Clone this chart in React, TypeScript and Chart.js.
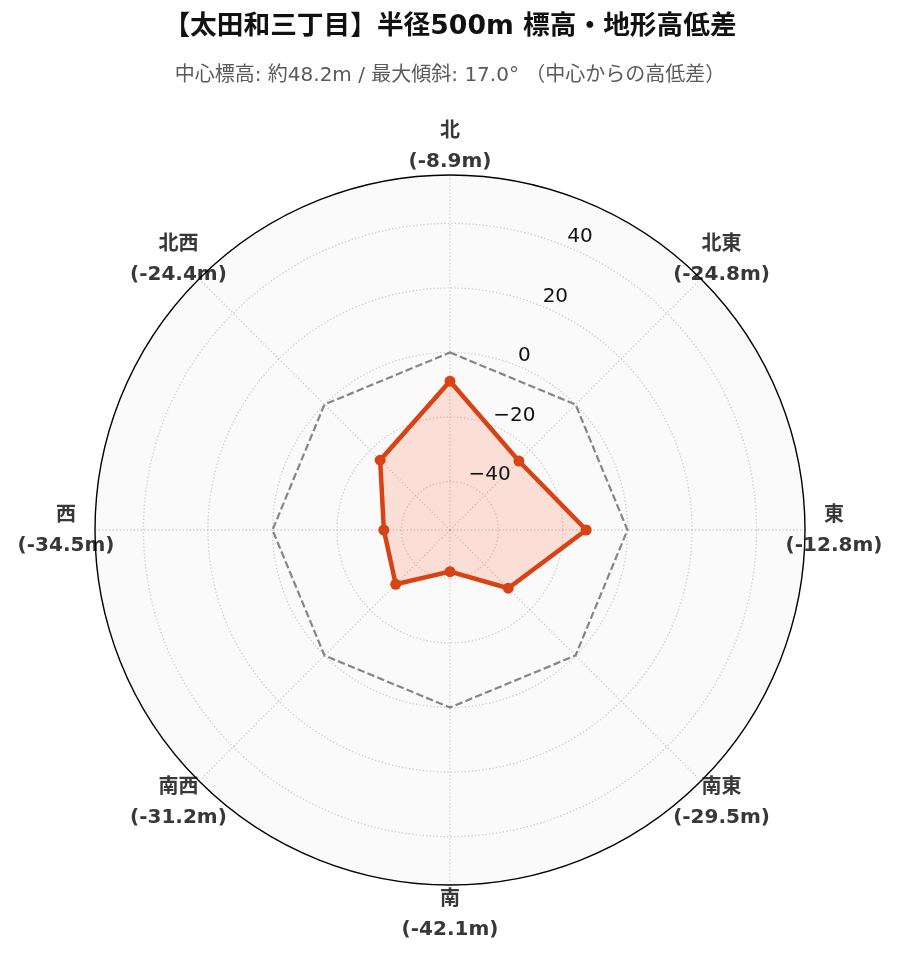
import React, { useEffect, useRef } from 'react';
import { Chart, registerables } from 'chart.js';

Chart.register(...registerables);

const directions = ['北', '北東', '東', '南東', '南', '南西', '西', '北西'];
const elevationDiff = [-8.9, -24.8, -12.8, -29.5, -42.1, -31.2, -34.5, -24.4];
const referenceLevel = [0, 0, 0, 0, 0, 0, 0, 0];
const radialTicks = [-40, -20, 0, 20, 40];
const rMin = -55;
const rMax = 55;
const titleText = '【太田和三丁目】半径500m 標高・地形高低差';
const subtitleText = '中心標高: 約48.2m / 最大傾斜: 17.0° （中心からの高低差）';

const FONT = '"DejaVu Sans", "Noto Sans CJK JP", sans-serif';

const polarDecor = {
  id: 'polarDecor',
  beforeDraw(chart: any) {
    const scale = chart.scales.r;
    if (!scale) return;
    const ctx = chart.ctx;
    const cx = scale.xCenter;
    const cy = scale.yCenter;
    const R = scale.drawingArea;
    ctx.save();
    ctx.beginPath();
    ctx.arc(cx, cy, R, 0, Math.PI * 2);
    ctx.fillStyle = '#fafafa';
    ctx.fill();
    // direction labels
    ctx.font = `bold 20px ${FONT}`;
    ctx.fillStyle = '#383838';
    ctx.textAlign = 'center';
    ctx.textBaseline = 'middle';
    const labelR = R + 29;
    directions.forEach((d, i) => {
      const a = (i * Math.PI * 2) / directions.length;
      const x = cx + labelR * Math.sin(a);
      const y = cy - labelR * Math.cos(a);
      const v = elevationDiff[i];
      ctx.fillText(d, x, y - 14);
      ctx.fillText(`(${v.toFixed(1)}m)`, x, y + 16);
    });
    ctx.restore();
  },
  afterDraw(chart: any) {
    const scale = chart.scales.r;
    if (!scale) return;
    const ctx = chart.ctx;
    const cx = scale.xCenter;
    const cy = scale.yCenter;
    const R = scale.drawingArea;
    ctx.save();
    ctx.beginPath();
    ctx.arc(cx, cy, R, 0, Math.PI * 2);
    ctx.strokeStyle = '#000';
    ctx.lineWidth = 1.4;
    ctx.stroke();
    ctx.font = `20px ${FONT}`;
    ctx.fillStyle = '#111';
    ctx.textAlign = 'left';
    ctx.textBaseline = 'bottom';
    const a = (22.5 * Math.PI) / 180;
    radialTicks.forEach((t) => {
      const r = scale.getDistanceFromCenterForValue(t);
      const x = cx + r * Math.sin(a);
      const y = cy - r * Math.cos(a);
      const label = t < 0 ? '\u2212' + Math.abs(t) : String(t);
      ctx.fillText(label, x, y);
    });
    ctx.restore();
  },
};

export default function App() {
  const ref = useRef<HTMLCanvasElement>(null);
  useEffect(() => {
    if (!ref.current) return;
    const chart = new Chart(ref.current, {
      type: 'radar',
      data: {
        labels: directions,
        datasets: [
          {
            label: '高低差',
            data: elevationDiff,
            borderColor: '#D84315',
            backgroundColor: 'rgba(255,112,67,0.2)',
            borderWidth: 4.5,
            pointRadius: 5.5,
            pointBackgroundColor: '#D84315',
            pointBorderColor: '#D84315',
            pointBorderWidth: 0,
            fill: 'start',
          },
          {
            label: '中心標高',
            data: referenceLevel,
            borderColor: 'rgba(128,128,128,0.95)',
            borderWidth: 2.2,
            borderDash: [7.4, 3.2],
            pointRadius: 0,
            fill: false,
          },
        ],
      },
      options: {
        responsive: false,
        animation: false,
        devicePixelRatio: 1,
        layout: { padding: { left: 94, right: 93, top: 0, bottom: 76 } },
        plugins: {
          legend: { display: false },
          tooltip: { enabled: false },
          title: {
            display: true,
            text: titleText,
            color: '#111',
            font: { family: FONT, size: 26.7, weight: 'bold', lineHeight: 1.2 },
            padding: { top: 11.5, bottom: 10 },
          },
          subtitle: {
            display: true,
            text: subtitleText,
            color: '#5a5a5a',
            font: { family: FONT, size: 20, lineHeight: 1.2 },
            padding: { top: 10.5, bottom: 86 },
          },
        },
        scales: {
          r: {
            min: rMin,
            max: rMax,
            ticks: { display: false, stepSize: 20 },
            pointLabels: { display: false },
            grid: {
              circular: true,
              color: (c: any) =>
                c.tick && (c.tick.value === rMin || c.tick.value === rMax)
                  ? 'rgba(0,0,0,0)'
                  : 'rgba(176,176,176,0.6)',
              lineWidth: 1.3,
            },
            border: { dash: [1.3, 2.2] },
            angleLines: {
              display: true,
              color: 'rgba(176,176,176,0.6)',
              lineWidth: 1.3,
              borderDash: [1.3, 2.2],
            },
          },
        },
      },
      plugins: [polarDecor],
    });
    return () => chart.destroy();
  }, []);
  return (
    <div style={{ position: 'absolute', left: 0, top: 0, width: 899, height: 962 }}>
      <canvas ref={ref} width={899} height={962} />
    </div>
  );
}
